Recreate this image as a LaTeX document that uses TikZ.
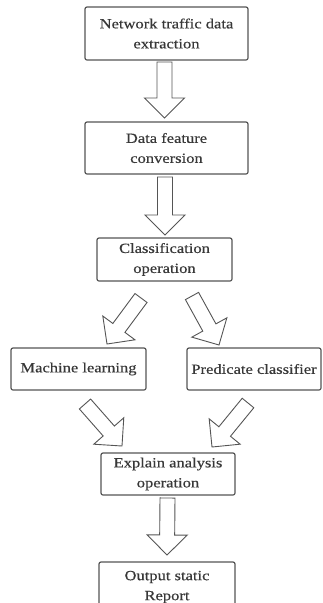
\documentclass[tikz,border=0pt]{standalone}
\usepackage{fontspec}
\setmainfont[FakeStretch=1.18,FakeBold=0.35]{Liberation Serif}
\usetikzlibrary{calc}
\definecolor{boxline}{HTML}{555555}
\definecolor{txt}{HTML}{383838}
\newcommand\blockarrow[2]{%
  \coordinate (ba-h) at ($(#2)!20pt!(#1)$);
  \draw[barrow] ($(#1)!7.5pt!90:(#2)$) -- ($(ba-h)!7.5pt!90:(#2)$) -- ($(ba-h)!20pt!90:(#2)$) -- (#2)
    -- ($(ba-h)!20pt!-90:(#2)$) -- ($(ba-h)!7.5pt!-90:(#2)$) -- ($(#1)!7.5pt!-90:(#2)$) -- cycle;}
\begin{document}
\begin{tikzpicture}[x=1pt,y=-1pt,
  stepbox/.style={draw=boxline, line width=1.2pt, rounded corners=2pt, fill=white,
    text=txt, align=center, inner sep=0pt, font=\fontsize{14pt}{20pt}\selectfont},
  barrow/.style={draw=boxline, line width=0.9pt, fill=white, line join=miter}]
\useasboundingbox (0,0) rectangle (322,603);
\clip (0,0) rectangle (322,603);
\fill[white] (0,0) rectangle (322,603);
\node[stepbox, minimum width=163pt, minimum height=53pt] (b1) at (166.5,33.5) {Network traffic data\\extraction};
\node[stepbox, minimum width=163pt, minimum height=52pt] (b2) at (166.5,148) {Data feature\\conversion};
\node[stepbox, minimum width=135pt, minimum height=43pt] (b3) at (164.5,259.5) {Classification\\operation};
\node[stepbox, minimum width=135pt, minimum height=42pt] (ml) at (78.5,369) {Machine learning};
\node[stepbox, minimum width=134pt, minimum height=42pt] (pc) at (254,369) {Predicate classifier};
\node[stepbox, minimum width=134pt, minimum height=42pt] (ex) at (168,474) {Explain analysis\\operation};
\node[stepbox, minimum width=136pt, minimum height=50pt] (out) at (167,587) {Output static\\Report};
\coordinate (a1s) at (164.5,62);  \coordinate (a1e) at (164.5,118);
\coordinate (a2s) at (165,177);   \coordinate (a2e) at (165,235);
\coordinate (a3s) at (141,298);   \coordinate (a3e) at (107,344);
\coordinate (a4s) at (192,296);   \coordinate (a4e) at (219,345);
\coordinate (a5s) at (85,404);    \coordinate (a5e) at (122,446);
\coordinate (a6s) at (248,403);   \coordinate (a6e) at (212,447);
\coordinate (a7s) at (167.5,498); \coordinate (a7e) at (167,555);
\blockarrow{a1s}{a1e}
\blockarrow{a2s}{a2e}
\blockarrow{a3s}{a3e}
\blockarrow{a4s}{a4e}
\blockarrow{a5s}{a5e}
\blockarrow{a6s}{a6e}
\blockarrow{a7s}{a7e}
\end{tikzpicture}
\end{document}
